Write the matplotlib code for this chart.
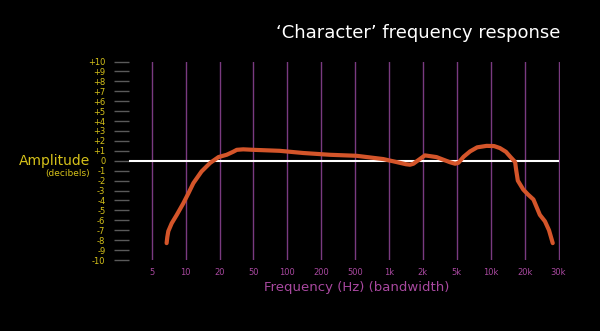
import matplotlib
matplotlib.use("Agg")
import matplotlib.pyplot as plt

freq_labels = ["5", "10", "20", "50", "100", "200", "500", "1k", "2k", "5k", "10k", "20k", "30k"]
db_ticks = list(range(-10, 11))
db_labels = [("+%d" % v if v > 0 else "%d" % v) for v in db_ticks]

# response curve, x given as position on the evenly spaced frequency scale (0 = 5 Hz ... 12 = 30 kHz)
curve_pos = [0.44, 0.46, 0.49, 0.59, 0.74, 0.93, 1.08, 1.23, 1.47, 1.72, 1.97, 2.21, 2.4, 2.51, 2.7, 3.0, 3.78,
             4.47, 5.26, 6.04, 6.83, 7.22, 7.5, 7.62, 7.72, 7.82, 8.06, 8.4, 8.8, 8.95, 9.05,
             9.2, 9.39, 9.6, 9.88, 10.1, 10.27, 10.45, 10.57, 10.72, 10.75, 10.8, 10.96,
             11.1, 11.26, 11.45, 11.6, 11.72, 11.83]
curve_db = [-8.3, -7.7, -7.1, -6.3, -5.45, -4.3, -3.3, -2.25, -1.08, -0.23, 0.37, 0.6, 0.9, 1.1, 1.15, 1.1, 1.0,
            0.78, 0.6, 0.5, 0.17, -0.13, -0.35, -0.4, -0.3, -0.05, 0.54, 0.37, -0.15, -0.3, -0.2,
            0.4, 0.94, 1.35, 1.5, 1.48, 1.28, 0.9, 0.43, -0.13, -0.9, -2.0, -2.9,
            -3.4, -3.9, -5.45, -6.1, -7.0, -8.3]

bg = "#000000"
purple = "#7a3a80"
purple_txt = "#a8489f"
yellow = "#d6c21a"
orange = "#d4552a"

fig = plt.figure(figsize=(6, 3.31), dpi=100, facecolor=bg)
W, H = 600, 331
left_px, right_px, top_px, bot_px = 129, 560, 61.5, 260
ax = fig.add_axes([left_px / W, 1 - bot_px / H, (right_px - left_px) / W, (bot_px - top_px) / H])
ax.set_facecolor(bg)

x0 = (left_px - 151.7) / 33.9
x1 = (right_px - 151.7) / 33.9
ax.set_xlim(x0, x1)
ax.set_ylim(-10, 10)

for i in range(len(freq_labels)):
    ax.axvline(i, color=purple, lw=1.0, zorder=1)
ax.plot([x0, 12], [0, 0], color="white", lw=1.5, zorder=2, solid_capstyle="butt")
ax.plot(curve_pos, curve_db, color=orange, lw=3.0, zorder=3,
        solid_capstyle="round", solid_joinstyle="round")

for s in ax.spines.values():
    s.set_visible(False)

ax.set_xticks(range(len(freq_labels)))
ax.set_xticklabels(freq_labels)
ax.tick_params(axis="x", length=0, pad=6, labelsize=6, labelcolor=purple_txt)
ax.set_yticks(db_ticks)
ax.set_yticklabels(db_labels)
ax.tick_params(axis="y", length=11, width=1, color="#5a5a5a", pad=6, labelsize=6, labelcolor=yellow)

fig.text(90 / W, 1 - 161 / H, "Amplitude", color=yellow, fontsize=10, ha="right", va="center")
fig.text(90 / W, 1 - 174 / H, "(decibels)", color=yellow, fontsize=6.5, ha="right", va="center")
fig.text(357 / W, 1 - 287 / H, "Frequency (Hz) (bandwidth)", color=purple_txt, fontsize=9.5,
         ha="center", va="center")
fig.text(560 / W, 1 - 33 / H, "\u2018Character\u2019 frequency response", color="white",
         fontsize=13, ha="right", va="center")

fig.savefig("out.png", dpi=100, facecolor=bg)
